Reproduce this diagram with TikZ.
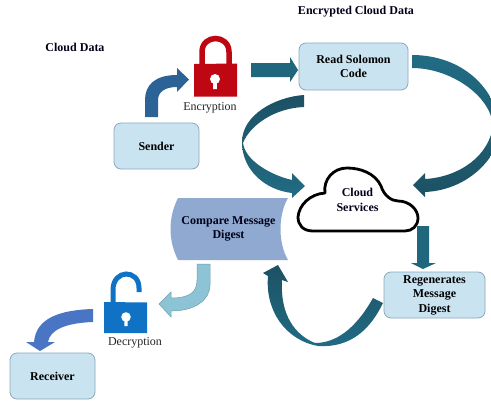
\documentclass[tikz,border=0pt]{standalone}
\usepackage{fontspec}
\setmainfont{Liberation Serif}
\definecolor{boxfill}{HTML}{C9E4F0}
\definecolor{boxedge}{HTML}{8CA8BC}
\definecolor{teal}{HTML}{20667C}
\definecolor{tealdark}{HTML}{1D5164}
\definecolor{teallight}{HTML}{216C84}
\definecolor{lockred}{HTML}{BE0712}
\definecolor{lockblue}{HTML}{0F72C4}
\definecolor{cmpfill}{HTML}{8FA9D0}
\definecolor{senderarrow}{HTML}{2C6396}
\definecolor{palearrow}{HTML}{8CC4D6}
\definecolor{palearrowedge}{HTML}{6E9FB0}
\definecolor{recvarrow}{HTML}{4A74C4}
\tikzset{
  stepbox/.style={draw=boxedge,line width=0.8pt,fill=boxfill,rounded corners=7pt,inner sep=0pt,align=center,font=\bfseries\fontsize{12}{14.5}\selectfont},
  boldtext/.style={inner sep=0pt,align=center,font=\bfseries\fontsize{12}{14.5}\selectfont,text=black!90!blue},
  locktext/.style={inner sep=0pt,font=\fontsize{12}{14}\selectfont,text=black!85},
  tealarrow/.style={fill=teal},
  tealshade/.style={top color=tealdark,bottom color=teallight}
}
\begin{document}
\begin{tikzpicture}[x=1pt,y=-1pt]
\useasboundingbox (0,0) rectangle (491,400);
\clip (0,0) rectangle (491,400);
\fill[white] (0,0) rectangle (491,400);
% boxes
\node[stepbox,minimum width=85pt,minimum height=46pt] (sender) at (156.5,146) {Sender};
\node[stepbox,minimum width=109pt,minimum height=47pt] (reed) at (353.5,66.5) {Read Solomon\\Code};
\node[stepbox,minimum width=101pt,minimum height=46pt] (regen) at (434.5,295) {Regenerates\\Message\\Digest};
\node[stepbox,minimum width=85pt,minimum height=46pt] (receiver) at (52.5,376) {Receiver};
% titles
\node[boldtext] (clouddata) at (75,47) {Cloud Data};
\node[boldtext] (encdata) at (356,12) {Encrypted Cloud Data};
% compare shape
\fill[cmpfill] (178,198) -- (288,198) .. controls (278,215) and (278,243) .. (288,260) -- (178,260) .. controls (168,240) and (168,218) .. (178,198) -- cycle;
\node[boldtext] (compare) at (228.5,229) {Compare Message\\Digest};
% cloud
\draw[black,line width=2.8pt,fill=white,line join=round]
  (313,231) .. controls (303,231) and (298,225) .. (298,217)
  .. controls (299,205) and (310,194) .. (325,193)
  .. controls (323,180) and (333,168) .. (347,168)
  .. controls (360,168) and (375,173) .. (381,186)
  .. controls (384,196) and (392,201) .. (398,201)
  .. controls (410,201) and (418,210) .. (418,218)
  .. controls (418,226) and (412,231) .. (405,231) -- cycle;
\node[boldtext] (cloud) at (357.5,200) {Cloud\\Services};
% red lock
\fill[lockred] (194,64) -- (237,63.5) -- (237,96.5) -- (194,96.5) -- cycle;
\draw[lockred,line width=5.5pt] (202,66) -- (202,52) .. controls (202,34) and (229,34) .. (229,52) -- (229,66);
\fill[white] (215,79) circle (5pt);
\fill[white] (213,81) -- (217,81) -- (216.8,89) -- (213.2,89) -- cycle;
\node[locktext] (encryption) at (210,107.5) {Encryption};
% blue lock
\fill[lockblue] (104,302) -- (147,302.5) -- (147,333) -- (104,333) -- cycle;
\draw[lockblue,line width=5pt] (113,304) -- (113,290) .. controls (113,269) and (139,269) .. (139,288) -- (139,292);
\fill[white] (126,317) circle (4.8pt);
\fill[white] (124.2,319) -- (127.8,319) -- (127.6,326) -- (124.4,326) -- cycle;
\node[locktext] (decryption) at (135,343) {Decryption};
% sender -> lock
\fill[senderarrow] (145,117) -- (145,100) .. controls (145,85) and (155,75) .. (177,75) -- (177,68) -- (189,79.5) -- (177,92) -- (177,87) .. controls (165,87) and (158,92) .. (158,100) -- (158,117) -- cycle;
% lock -> reed
\fill[tealarrow] (251,63) -- (290,63) -- (290,57) -- (298,70) -- (290,82) -- (290,77) -- (251,77) -- cycle;
% reed -> cloud, right
\shade[top color=teallight,bottom color=tealdark] (412,55) .. controls (450,55) and (490,75) .. (501,125)
  .. controls (501,155) and (470,190) .. (425,192) -- (425,197) -- (413,185) -- (425,173) -- (425,179)
  .. controls (460,177) and (490,155) .. (493,125) .. controls (490,95) and (450,68) .. (412,68) -- cycle;
% left big arrow
\shade[tealshade] (304,95) .. controls (275,97) and (242,115) .. (242,142)
  .. controls (242,170) and (265,190) .. (292,193) -- (292,198) -- (305,186) -- (292,173) -- (292,180)
  .. controls (270,175) and (245,160) .. (243,143) .. controls (250,125) and (275,108) .. (304,107) -- cycle;
% cloud -> regen
\fill[tealarrow] (417,226) -- (429,226) -- (429,263) -- (436,263) -- (423,269) -- (411,263) -- (417,263) -- cycle;
% regen -> compare
\shade[tealshade] (373,298) .. controls (355,330) and (335,343) .. (315,343)
  .. controls (295,335) and (280,315) .. (282,280) -- (288,282) -- (278,265) -- (263,273) -- (268,276)
  .. controls (265,310) and (285,340) .. (318,346) .. controls (350,348) and (370,330) .. (383,303) -- cycle;
% compare -> decryption
\filldraw[draw=palearrowedge,line width=0.5pt,fill=palearrow] (197,264) -- (197,280) .. controls (197,292) and (190,298) .. (171,298) -- (171,292) -- (159,304) -- (171,317) -- (171,311) .. controls (195,311) and (210,300) .. (210,285) -- (210,264) -- cycle;
% decryption -> receiver
\fill[recvarrow] (93,309) .. controls (60,310) and (36,318) .. (34,342) -- (26,342) -- (40,351) -- (55,342) -- (48,342) .. controls (50,330) and (65,323) .. (93,322) -- cycle;
\end{tikzpicture}
\end{document}
